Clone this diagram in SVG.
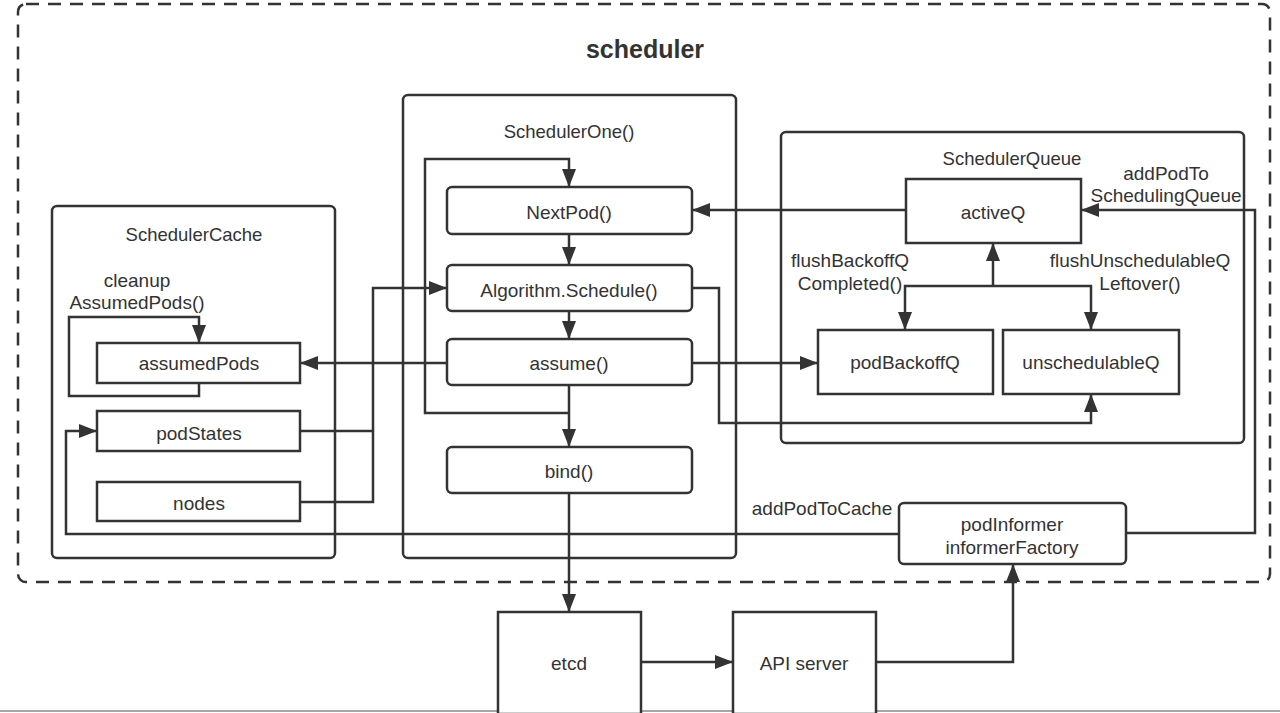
<svg xmlns="http://www.w3.org/2000/svg" width="1280" height="713" viewBox="0 0 1280 713">
<defs>
<style>
.box{fill:#fff;stroke:#333;stroke-width:2.5}
.grp{fill:none;stroke:#333;stroke-width:2.5}
.ln{fill:none;stroke:#333;stroke-width:2.5}
.t{font-family:"Liberation Sans",Arial,sans-serif;fill:#333;text-anchor:middle;font-size:19px}
.tt{font-family:"Liberation Sans",Arial,sans-serif;fill:#333;text-anchor:middle;font-size:18.5px}
</style>
<marker id="ah" markerUnits="userSpaceOnUse" markerWidth="18" markerHeight="14" refX="18" refY="7" orient="auto">
<path d="M0,0 L18,7 L0,14 z" fill="#333"/>
</marker>
</defs>
<rect width="1280" height="713" fill="#fff"/>
<line x1="0" y1="711" x2="1280" y2="711" stroke="#888" stroke-width="1.5"/>

<g id="scheduler">
<rect x="18" y="4" width="1252" height="578" rx="8" fill="none" stroke="#333" stroke-width="2.5" stroke-dasharray="13,9"/>
<text x="645" y="58" style="font-family:'Liberation Sans',Arial,sans-serif;font-weight:bold;font-size:25px;fill:#333;text-anchor:middle">scheduler</text>
</g>

<g id="connectors">
<path class="ln" d="M199,383 V396 H69 V317 H199 V343" marker-end="url(#ah)"/>
<path class="ln" d="M899,534 H66 V431 H97" marker-end="url(#ah)"/>
<path class="ln" d="M300,431 H373"/>
<path class="ln" d="M300,502 H373 V288 H447" marker-end="url(#ah)"/>
<path class="ln" d="M447,363 H300" marker-end="url(#ah)"/>
<path class="ln" d="M569,234 V265" marker-end="url(#ah)"/>
<path class="ln" d="M569,311 V339" marker-end="url(#ah)"/>
<path class="ln" d="M569,385 V447" marker-end="url(#ah)"/>
<path class="ln" d="M569,413 H425 V159 H569 V187" marker-end="url(#ah)"/>
<path class="ln" d="M569,493 V612" marker-end="url(#ah)"/>
<path class="ln" d="M641,662 H733" marker-end="url(#ah)"/>
<path class="ln" d="M876,662 H1013 V564" marker-end="url(#ah)"/>
<path class="ln" d="M1126,533 H1255 V210 H1081" marker-end="url(#ah)"/>
<path class="ln" d="M906,210 H692" marker-end="url(#ah)"/>
<path class="ln" d="M692,288 H719 V423 H1091 V394" marker-end="url(#ah)"/>
<path class="ln" d="M692,363 H818" marker-end="url(#ah)"/>
<path class="ln" d="M993,286 V243" marker-end="url(#ah)"/>
<path class="ln" d="M993,286 H905 V330" marker-end="url(#ah)"/>
<path class="ln" d="M993,286 H1091 V330" marker-end="url(#ah)"/>
</g>

<g id="SchedulerCache">
<rect class="grp" x="52" y="206" width="283" height="352" rx="5"/>
<text class="tt" x="194" y="241">SchedulerCache</text>
<text class="t" x="137" y="287">cleanup</text>
<text class="t" x="137" y="309">AssumedPods()</text>
</g>
<g id="assumedPods">
<rect class="box" x="97" y="343" width="203" height="40"/>
<text class="t" x="199" y="370">assumedPods</text>
</g>
<g id="podStates">
<rect class="box" x="97" y="411" width="203" height="40"/>
<text class="t" x="199" y="440">podStates</text>
</g>
<g id="nodes">
<rect class="box" x="97" y="482" width="203" height="39"/>
<text class="t" x="199" y="510">nodes</text>
</g>

<g id="SchedulerOne">
<rect class="grp" x="403" y="95" width="333" height="463" rx="5"/>
<text class="tt" x="569" y="138">SchedulerOne()</text>
</g>
<g id="NextPod">
<rect class="box" x="447" y="187" width="245" height="47" rx="5"/>
<text class="t" x="569" y="219">NextPod()</text>
</g>
<g id="AlgorithmSchedule">
<rect class="box" x="447" y="265" width="245" height="46" rx="5"/>
<text class="t" x="569" y="297">Algorithm.Schedule()</text>
</g>
<g id="assume">
<rect class="box" x="447" y="339" width="245" height="46" rx="5"/>
<text class="t" x="569" y="370">assume()</text>
</g>
<g id="bind">
<rect class="box" x="447" y="447" width="245" height="46" rx="5"/>
<text class="t" x="569" y="478">bind()</text>
</g>

<g id="SchedulerQueue">
<rect class="grp" x="781" y="132" width="463" height="311" rx="5"/>
<text class="tt" x="1012" y="165">SchedulerQueue</text>
<text class="t" x="1166" y="180">addPodTo</text>
<text class="t" x="1166" y="202">SchedulingQueue</text>
<text class="t" x="850" y="267">flushBackoffQ</text>
<text class="t" x="850" y="290">Completed()</text>
<text class="t" x="1140" y="267">flushUnschedulableQ</text>
<text class="t" x="1140" y="290">Leftover()</text>
</g>
<g id="activeQ">
<rect class="box" x="906" y="179" width="175" height="64"/>
<text class="t" x="993" y="219">activeQ</text>
</g>
<g id="podBackoffQ">
<rect class="box" x="818" y="330" width="175" height="64"/>
<text class="t" x="905" y="369">podBackoffQ</text>
</g>
<g id="unschedulableQ">
<rect class="box" x="1003" y="330" width="176" height="64"/>
<text class="t" x="1091" y="369">unschedulableQ</text>
</g>

<g id="podInformer">
<rect class="box" x="899" y="503" width="227" height="61" rx="5"/>
<text class="t" x="1012" y="531">podInformer</text>
<text class="t" x="1012" y="554">informerFactory</text>
<text class="t" x="822" y="515">addPodToCache</text>
</g>

<g id="etcd">
<rect class="box" x="498" y="612" width="143" height="102"/>
<text class="t" x="569" y="670">etcd</text>
</g>
<g id="APIserver">
<rect class="box" x="733" y="612" width="143" height="102"/>
<text class="t" x="804" y="670">API server</text>
</g>
</svg>
